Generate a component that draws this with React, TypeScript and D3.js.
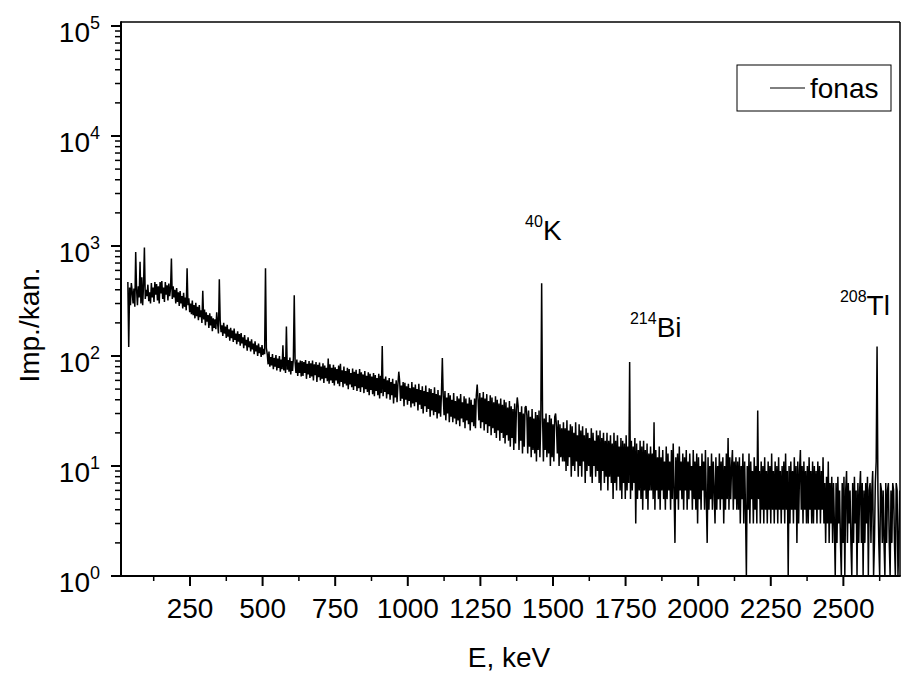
import React from "react";
import * as d3 from "d3";

// Background gamma spectrum ("fonas"): channel energies start at E_START keV, step E_STEP keV
const E_START = 36;
const E_STEP = 3;

const counts036 = [
  470, 121, 420, 290, 460, 385, 300, 410, 280, 880,
  405, 290, 430, 340, 720, 300, 520, 290, 440, 970,
  330, 400, 350, 445, 315, 380, 300, 460, 340, 420,
  310, 470, 360, 450, 320, 430, 300, 470, 370, 480,
  330, 420, 310, 470, 360, 440, 320, 455, 350, 410,
  770, 330, 430, 340, 400, 300, 415, 310, 380, 285,
  390, 300, 350, 270, 375, 280, 340, 260, 627, 290,
  335, 250, 300, 240, 320, 235, 290, 220, 305, 230,
  280, 212, 290, 225, 260, 200, 392, 215, 265, 190,
  250, 205, 235, 180, 245, 190, 230, 168, 220, 180,
];
const counts336 = [
  215, 175, 250, 200, 160, 498, 210, 165, 190, 152,
  200, 160, 185, 146, 192, 150, 175, 138, 180, 145,
  170, 134, 178, 140, 160, 128, 168, 135, 158, 124,
  162, 130, 148, 118, 155, 125, 140, 112, 148, 120,
  136, 110, 142, 115, 130, 104, 136, 110, 125, 100,
  130, 106, 120, 98, 126, 102, 116, 104, 627, 118,
  104, 84, 110, 80, 98, 82, 104, 76, 96, 80,
  102, 74, 95, 78, 100, 72, 93, 76, 125, 74,
  98, 70, 185, 75, 92, 72, 97, 68, 90, 73,
  95, 356, 88, 70, 93, 66, 87, 70, 91, 65,
];
const counts636 = [
  90, 66, 88, 70, 92, 62, 85, 68, 90, 63,
  86, 65, 91, 60, 84, 67, 88, 58, 83, 64,
  87, 60, 80, 62, 86, 57, 82, 63, 78, 59,
  95, 56, 84, 60, 78, 57, 83, 54, 79, 60,
  76, 56, 82, 53, 85, 58, 74, 52, 80, 56,
  73, 54, 78, 50, 76, 55, 70, 52, 77, 49,
  72, 53, 75, 48, 69, 51, 76, 47, 71, 52,
  68, 46, 73, 50, 66, 47, 71, 44, 69, 49,
  65, 45, 70, 43, 67, 48, 63, 44, 69, 41,
  66, 46, 123, 43, 62, 47, 65, 41, 60, 45,
];
const counts936 = [
  63, 40, 58, 44, 62, 37, 56, 42, 60, 38,
  55, 72, 59, 39, 54, 41, 58, 35, 57, 40,
  53, 36, 56, 39, 51, 34, 58, 37, 52, 35,
  55, 38, 50, 32, 56, 36, 49, 33, 53, 30,
  48, 35, 54, 31, 47, 33, 51, 28, 50, 32,
  46, 29, 52, 31, 45, 27, 49, 30, 44, 28,
  47, 96, 43, 29, 48, 26, 42, 30, 46, 25,
  44, 28, 40, 25, 46, 27, 39, 24, 43, 26,
  41, 23, 45, 27, 38, 25, 43, 22, 41, 26,
  37, 24, 42, 21, 40, 25, 36, 23, 41, 22,
];
const counts1236 = [
  44, 55, 40, 26, 46, 22, 42, 25, 47, 21,
  41, 24, 45, 20, 39, 23, 44, 19, 42, 22,
  38, 20, 43, 18, 40, 21, 37, 17, 41, 20,
  36, 18, 40, 16, 38, 19, 34, 17, 39, 15,
  35, 18, 33, 14, 37, 16, 32, 42, 35, 14,
  31, 17, 35, 13, 30, 15, 34, 35, 29, 13,
  32, 15, 28, 12, 33, 14, 27, 13, 31, 11,
  29, 14, 32, 12, 26, 458, 30, 11, 27, 14,
  30, 12, 25, 13, 29, 10, 27, 12, 24, 11,
  28, 30, 23, 13, 26, 10, 24, 12, 22, 11,
];
const counts1536 = [
  25, 11, 22, 9, 26, 10, 21, 12, 24, 8,
  23, 10, 20, 9, 25, 11, 19, 8, 24, 10,
  21, 8, 23, 11, 19, 7, 22, 9, 20, 10,
  18, 8, 22, 7, 20, 10, 17, 8, 21, 9,
  19, 7, 21, 6, 18, 9, 20, 7, 17, 8,
  20, 6, 17, 8, 19, 7, 16, 5, 20, 7,
  17, 6, 19, 8, 15, 6, 18, 5, 17, 7,
  16, 5, 19, 6, 15, 7, 88, 5, 17, 6,
  15, 7, 18, 3, 16, 5, 14, 6, 17, 5,
  15, 4, 17, 6, 14, 5, 16, 4, 13, 6,
];
const counts1836 = [
  15, 6, 13, 5, 25, 4, 14, 6, 12, 5,
  15, 4, 12, 6, 14, 5, 11, 4, 15, 5,
  13, 6, 11, 4, 14, 5, 16, 6, 2, 12,
  5, 13, 4, 15, 6, 11, 5, 13, 4, 12,
  6, 14, 4, 11, 5, 13, 6, 10, 4, 14,
  5, 11, 4, 13, 3, 12, 5, 10, 4, 13,
  6, 11, 4, 14, 5, 2, 12, 4, 10, 5,
  13, 4, 11, 6, 3, 12, 4, 10, 5, 13,
  4, 11, 5, 12, 3, 10, 4, 13, 5, 18,
  4, 12, 5, 10, 14, 4, 11, 5, 12, 4,
];
const counts2136 = [
  11, 4, 12, 3, 10, 5, 13, 3, 11, 4,
  0, 10, 4, 13, 3, 11, 5, 9, 3, 12,
  4, 10, 3, 32, 5, 9, 3, 11, 4, 10,
  3, 12, 4, 9, 3, 11, 4, 10, 3, 13,
  4, 9, 3, 11, 4, 10, 3, 12, 4, 9,
  3, 10, 4, 11, 3, 13, 4, 9, 0, 10,
  3, 11, 4, 9, 3, 12, 4, 10, 2, 11,
  3, 9, 14, 4, 10, 3, 11, 4, 9, 3,
  10, 3, 12, 4, 9, 3, 11, 3, 10, 4,
  9, 3, 11, 4, 10, 3, 9, 4, 12, 3,
];
const counts2436 = [
  7, 2, 8, 3, 11, 2, 7, 3, 8, 2,
  7, 3, 0, 7, 2, 8, 3, 6, 2, 0,
  7, 2, 8, 0, 6, 9, 2, 7, 3, 6,
  2, 0, 7, 2, 8, 3, 6, 0, 7, 2,
  6, 9, 2, 7, 0, 6, 2, 7, 3, 8,
  0, 6, 7, 2, 6, 9, 0, 2, 7, 11,
  122, 6, 2, 0, 7, 6, 2, 6, 2, 0,
  7, 2, 6, 7, 2, 0, 6, 2, 7, 6,
  2, 0, 7, 6, 0, 2, 6,
];

const counts = [
  ...counts036, ...counts336, ...counts636, ...counts936, ...counts1236,
  ...counts1536, ...counts1836, ...counts2136, ...counts2436,
];
const energies = counts.map((_, i) => E_START + i * E_STEP);

const seriesName = "fonas";
const xTicks = [250, 500, 750, 1000, 1250, 1500, 1750, 2000, 2250, 2500];
const xMinorTicks = [125, 375, 625, 875, 1125, 1375, 1625, 1875, 2125, 2375, 2625];
const yExponents = [0, 1, 2, 3, 4, 5];
const yMinorMultipliers = [2, 3, 4, 5, 6, 7, 8, 9];

const peakMass = ["40", "214", "208"];
const peakElement = ["K", "Bi", "Tl"];
const peakLabelE = [1404, 1765, 2488];
const peakLabelCount = [1135, 149, 236];

const X_DOMAIN: [number, number] = [12.4, 2695];
const Y_DOMAIN: [number, number] = [1, 108700];

const FONT = "'Liberation Sans', Arial, Helvetica, sans-serif";

export default function App() {
  const W = 902, H = 676;
  const L = 121, R = 900, T = 22, B = 576;
  const x = d3.scaleLinear().domain(X_DOMAIN).range([L, R]);
  const y = d3.scaleLog().domain(Y_DOMAIN).range([B, T]);

  const pts: [number, number][] = energies.map((e, i) => [e, counts[i]]);
  const line = d3
    .line<[number, number]>()
    .x((d) => x(d[0]))
    .y((d) => y(Math.max(d[1], Y_DOMAIN[0])));
  const pathD = line(pts) || "";

  const minorY: number[] = [];
  yExponents.slice(0, -1).forEach((e) =>
    yMinorMultipliers.forEach((m) => minorY.push(m * Math.pow(10, e)))
  );

  return (
    <svg
      width={W}
      height={H}
      style={{ position: "absolute", left: 0, top: 0, background: "#fff" }}
      fontFamily={FONT}
    >
      <defs>
        <clipPath id="plotClip">
          <rect x={L} y={T} width={R - L} height={B - T} />
        </clipPath>
      </defs>
      <rect x={0} y={0} width={W} height={H} fill="#fff" />

      {/* spectrum */}
      <path
        d={pathD}
        fill="none"
        stroke="#000"
        strokeWidth={1.5}
        strokeLinejoin="miter"
        strokeMiterlimit={2}
        clipPath="url(#plotClip)"
      />

      {/* frame */}
      <line x1={L} y1={T} x2={R} y2={T} stroke="#000" strokeWidth={1.5} />
      <line x1={R} y1={T} x2={R} y2={B} stroke="#000" strokeWidth={1.5} />
      <line x1={L} y1={T - 0.75} x2={L} y2={B + 1} stroke="#000" strokeWidth={2} />
      <line x1={L - 1} y1={B} x2={R + 0.75} y2={B} stroke="#000" strokeWidth={2} />

      {/* y ticks */}
      {yExponents.map((e) => {
        const yy = y(Math.pow(10, e));
        return (
          <g key={"ye" + e}>
            <line x1={L - 10} x2={L} y1={yy} y2={yy} stroke="#000" strokeWidth={2} />
            <text x={100} y={yy + 16} fontSize={28} textAnchor="end">
              10
              <tspan dy={-13} fontSize={18}>
                {e}
              </tspan>
            </text>
          </g>
        );
      })}
      {minorY.map((v, i) => (
        <line key={"ym" + i} x1={L - 6} x2={L} y1={y(v)} y2={y(v)} stroke="#000" strokeWidth={1.5} />
      ))}

      {/* x ticks */}
      {xTicks.map((t) => (
        <g key={"xt" + t}>
          <line x1={x(t)} x2={x(t)} y1={B} y2={B + 10} stroke="#000" strokeWidth={2} />
          <text x={x(t)} y={618} fontSize={28} textAnchor="middle">
            {t}
          </text>
        </g>
      ))}
      {xMinorTicks.map((t) => (
        <line key={"xm" + t} x1={x(t)} x2={x(t)} y1={B} y2={B + 5} stroke="#000" strokeWidth={1.5} />
      ))}

      {/* axis titles */}
      <text x={509} y={667} fontSize={28} textAnchor="middle">
        E, keV
      </text>
      <text transform="translate(39,325) rotate(-90)" fontSize={28} textAnchor="middle">
        Imp./kan.
      </text>

      {/* peak labels */}
      {peakMass.map((m, i) => (
        <text key={"pk" + i} x={x(peakLabelE[i])} y={y(peakLabelCount[i])} fontSize={28}>
          <tspan fontSize={16} dy={-13}>
            {m}
          </tspan>
          <tspan dy={13}>{peakElement[i]}</tspan>
        </text>
      ))}

      {/* legend */}
      <rect x={737} y={65} width={154} height={46} fill="#fff" stroke="#000" strokeWidth={1} />
      <line x1={770} x2={805} y1={88} y2={88} stroke="#000" strokeWidth={1} />
      <text x={810} y={98} fontSize={28}>
        {seriesName}
      </text>
    </svg>
  );
}
